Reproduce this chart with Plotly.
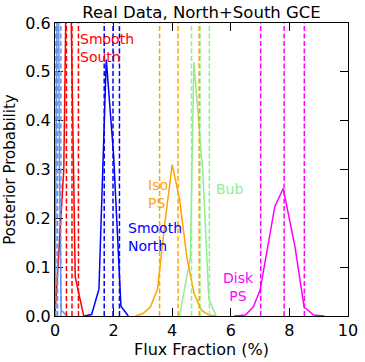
import plotly.graph_objects as go

# posterior curves (flux fraction in %, probability)
lightblue_x = [0.0, 0.1, 0.15, 0.21, 0.41]
lightblue_y = [0.0, 0.95, 0.3, 0.012, 0.0]
lightblue_q = [0.03, 0.09, 0.2]

red_x = [0.0, 0.3, 0.45, 0.6, 0.69, 0.98]
red_y = [0.0, 0.3, 1.0, 0.45, 0.08, 0.0]
red_q = [0.39, 0.58, 0.8]

blue_x = [1.0, 1.25, 1.5, 1.75, 2.0, 2.25, 2.5]
blue_y = [0.0, 0.003, 0.055, 0.525, 0.33, 0.02, 0.0]
blue_q = [1.68, 1.98, 2.2]

green_x = [4.25, 4.62, 4.74, 5.05, 5.25, 5.5]
green_y = [0.0, 0.12, 0.52, 0.29, 0.035, 0.0]
green_q = [4.66, 4.95, 5.27]

orange_x = [2.75, 3.0, 3.25, 3.5, 3.75, 4.0, 4.25, 4.5, 4.75, 5.0, 5.25, 5.5]
orange_y = [0.0, 0.005, 0.018, 0.055, 0.19, 0.31, 0.24, 0.12, 0.045, 0.012, 0.002, 0.0]
orange_q = [3.57, 4.2, 4.92]

magenta_x = [6.1, 6.5, 6.77, 7.0, 7.5, 7.79, 8.19, 8.5, 8.82, 9.2]
magenta_y = [0.0, 0.002, 0.019, 0.053, 0.224, 0.261, 0.142, 0.019, 0.002, 0.0]
magenta_q = [7.02, 7.82, 8.51]

series = [
    (lightblue_x, lightblue_y, lightblue_q, "cornflowerblue"),
    (red_x, red_y, red_q, "red"),
    (blue_x, blue_y, blue_q, "blue"),
    (green_x, green_y, green_q, "lightgreen"),
    (orange_x, orange_y, orange_q, "orange"),
    (magenta_x, magenta_y, magenta_q, "magenta"),
]

labels = [
    ("Smooth<br>South", 0.79, 0.549, "red", "left"),
    ("Smooth<br>North", 2.42, 0.161, "blue", "left"),
    ("Iso<br>PS", 3.12, 0.25, "orange", "left"),
    ("Bub", 5.43, 0.26, "lightgreen", "left"),
    ("Disk<br>PS", 6.27, 0.06, "magenta", "center"),
]

font = "DejaVu Sans, Arial, sans-serif"

fig = go.Figure()

for xs, ys, qs, col in series:
    fig.add_trace(go.Scatter(x=xs, y=ys, mode="lines",
                             line=dict(color=col, width=1.5),
                             showlegend=False, hoverinfo="skip"))
    for q in qs:
        fig.add_vline(x=q, line=dict(color=col, width=1.5, dash="5px,2.5px"))

for txt, x, y, col, al in labels:
    fig.add_annotation(x=x, y=y, text=txt, showarrow=False,
                       xanchor=al, yanchor="middle", align=al,
                       font=dict(color=col, size=14, family=font))

axis_style = dict(showline=True, linecolor="black", linewidth=1, mirror="ticks",
                  ticks="inside", ticklen=8, tickcolor="black", tickwidth=1,
                  showgrid=False, zeroline=False, automargin=False,
                  tickfont=dict(size=16, color="black", family=font))

fig.update_xaxes(range=[0, 10], dtick=2, tick0=0,
                 title=dict(text="Flux Fraction (%)", font=dict(size=16, family=font), standoff=2),
                 **axis_style)
fig.update_yaxes(range=[0, 0.6], dtick=0.1, tick0=0, tickformat=".1f",
                 title=dict(text="Posterior Probability", font=dict(size=15, family=font), standoff=6),
                 **axis_style)

fig.update_layout(
    width=365, height=362,
    margin=dict(l=55, r=17, t=23, b=46),
    plot_bgcolor="white", paper_bgcolor="white",
    font=dict(family=font, color="black"),
    title=dict(text="Real Data, North+South GCE", x=0.5, xref="paper",
               y=1 - 12 / 362, yanchor="middle", font=dict(size=16.5, family=font)),
)

fig.write_html("out.html", config={"displayModeBar": False},
               post_script="document.body.style.margin='0';")
